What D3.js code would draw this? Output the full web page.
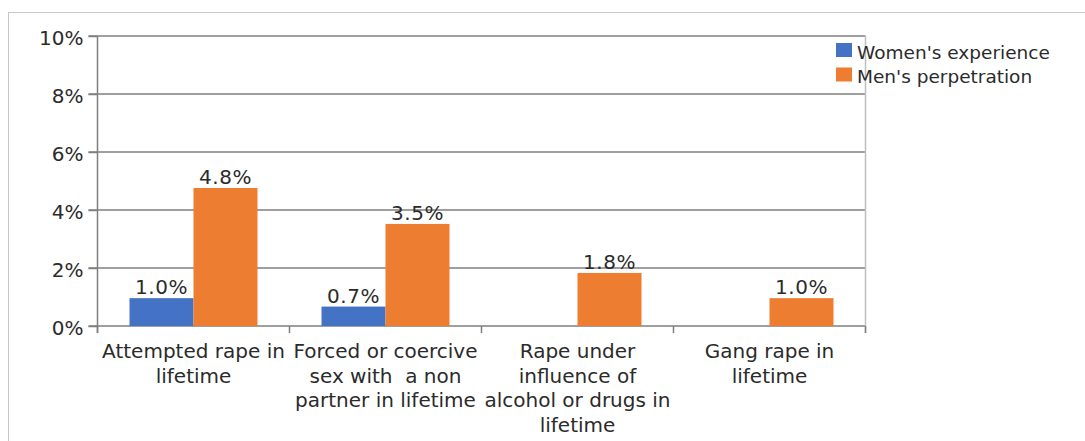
<!DOCTYPE html>
<html>
<head>
<meta charset="utf-8">
<script src="https://cdn.jsdelivr.net/npm/d3@7"></script>
<style>
  html, body { margin: 0; padding: 0; background: #fff; }
  svg { display: block; }
  text { font-family: "DejaVu Sans", Verdana, sans-serif; fill: #2b2b2b; }
</style>
</head>
<body>
<svg id="chart" width="1085" height="441"></svg>
<script>
const categories = [
  ["Attempted rape in", "lifetime"],
  ["Forced or coercive", "sex with  a non", "partner in lifetime"],
  ["Rape under", "influence of", "alcohol or drugs in", "lifetime"],
  ["Gang rape in", "lifetime"]
];
const seriesNames = ["Women's experience", "Men's perpetration"];
const womenValues = [0.96, 0.67, null, null];
const menValues = [4.76, 3.52, 1.83, 0.96];
const yTicks = [0, 2, 4, 6, 8, 10];
const colors = ["#4472C4", "#ED7D31"];

const svg = d3.select("#chart");
const W = 1085, H = 441;
const margin = { left: 97.5, top: 36, right: W - 865.5, bottom: H - 326 };
const FS = 20;

// outer frame
svg.append("rect").attr("x", 8.5).attr("y", 12.5).attr("width", 1100).attr("height", 500)
  .attr("fill", "none").attr("stroke", "#c8c8c8").attr("stroke-width", 1);

const x0 = d3.scaleBand().domain(d3.range(categories.length))
  .range([margin.left, W - margin.right]).padding(0);
const x1 = d3.scaleBand().domain([0, 1])
  .range([x0.bandwidth() / 6, x0.bandwidth() * 5 / 6]);
const y = d3.scaleLinear().domain([0, 10]).range([H - margin.bottom, margin.top]);

// gridlines
const grid = svg.append("g");
grid.selectAll("line").data(yTicks).join("line")
  .attr("x1", margin.left - 9).attr("x2", W - margin.right)
  .attr("y1", d => y(d)).attr("y2", d => y(d))
  .attr("stroke", "#7f7f7f").attr("stroke-width", 1.5);

// right plot edge
svg.append("line").attr("x1", W - margin.right).attr("x2", W - margin.right)
  .attr("y1", margin.top).attr("y2", y(0) + 7)
  .attr("stroke", "#bfbfbf").attr("stroke-width", 1.5);

// bars
const data = categories.map((c, i) => ({ i, vals: [womenValues[i], menValues[i]] }));
const groups = svg.append("g").selectAll("g").data(data).join("g")
  .attr("transform", d => `translate(${x0(d.i)},0)`);
groups.selectAll("rect").data(d => d.vals.map((v, s) => ({ v, s })).filter(e => e.v != null))
  .join("rect")
  .attr("x", d => x1(d.s)).attr("width", x1.bandwidth())
  .attr("y", d => y(d.v)).attr("height", d => y(0) - y(d.v))
  .attr("fill", d => colors[d.s]);
groups.selectAll("text.lbl").data(d => d.vals.map((v, s) => ({ v, s })).filter(e => e.v != null))
  .join("text").attr("class", "lbl")
  .attr("x", d => x1(d.s) + x1.bandwidth() / 2).attr("y", d => y(d.v) - 4)
  .attr("text-anchor", "middle").attr("font-size", 20).attr("letter-spacing", 0.6)
  .text(d => d.v.toFixed(1) + "%");

// y axis
const yAxis = svg.append("g").attr("transform", `translate(${margin.left},0)`)
  .call(d3.axisLeft(y).tickValues(yTicks).tickFormat(d => d + "%").tickSize(9).tickPadding(5));
yAxis.select(".domain").attr("stroke", "#7f7f7f").attr("stroke-width", 1.5);
yAxis.selectAll(".tick line").attr("stroke", "#7f7f7f").attr("stroke-width", 1.5);
yAxis.selectAll(".tick text").attr("font-size", FS).attr("font-family", "DejaVu Sans").attr("fill", "#2b2b2b").attr("dy", "0.42em");
yAxis.select(".domain").attr("d", `M0,${margin.top}V${y(0) + 7}`);

// x axis category ticks
svg.append("g").selectAll("line").data(d3.range(categories.length + 1)).join("line")
  .attr("x1", i => margin.left + i * x0.step()).attr("x2", i => margin.left + i * x0.step())
  .attr("y1", y(0)).attr("y2", y(0) + 7)
  .attr("stroke", "#7f7f7f").attr("stroke-width", 1.5);

// x labels
const xl = svg.append("g").selectAll("text").data(data).join("text")
  .attr("text-anchor", "middle").attr("font-size", FS)
  .attr("x", d => x0(d.i) + x0.bandwidth() / 2).attr("y", 358);
xl.selectAll("tspan").data(d => categories[d.i].map((t, k) => ({ t, k, x: x0(d.i) + x0.bandwidth() / 2 })))
  .join("tspan").attr("x", d => d.x).attr("dy", d => d.k === 0 ? 0 : 24.5)
  .style("white-space", "pre").text(d => d.t);

// legend
const lg = svg.append("g").selectAll("g").data(seriesNames).join("g")
  .attr("transform", (d, i) => `translate(836,${43 + i * 24.5})`);
lg.append("rect").attr("width", 16).attr("height", 14).attr("fill", (d, i) => colors[i]);
lg.append("text").attr("x", 21).attr("y", 15.5).attr("font-size", 18.5).text(d => d);
</script>
</body>
</html>
